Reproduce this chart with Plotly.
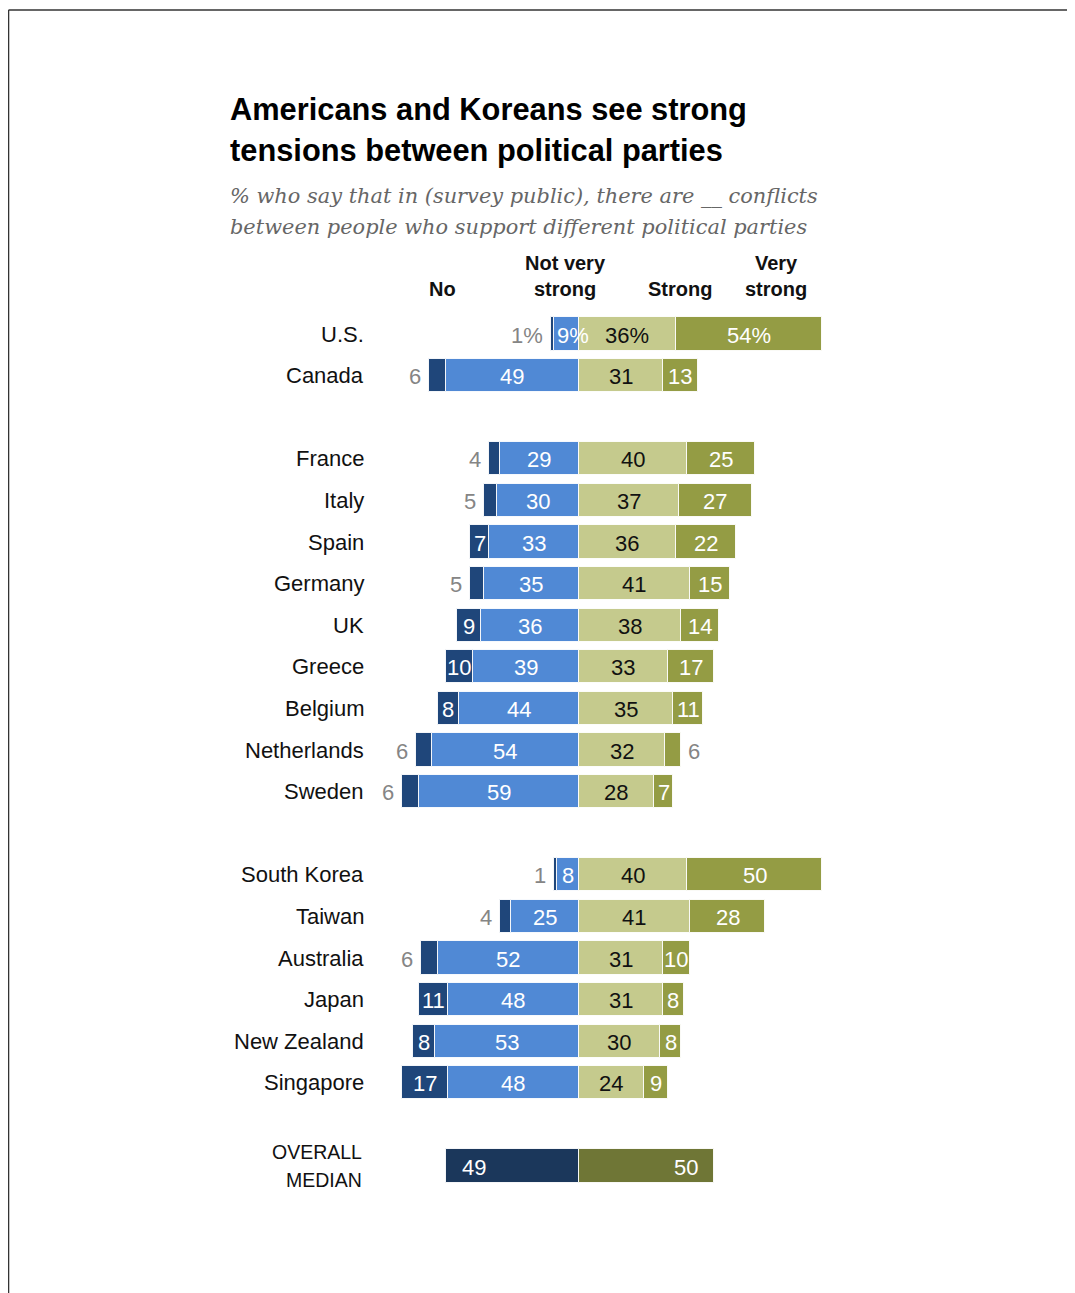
import plotly.graph_objects as go

# ---------------- data ----------------
countries = ["U.S.", "Canada", "France", "Italy", "Spain", "Germany", "UK", "Greece",
             "Belgium", "Netherlands", "Sweden", "South Korea", "Taiwan", "Australia",
             "Japan", "New Zealand", "Singapore"]
no_vals = [1, 6, 4, 5, 7, 5, 9, 10, 8, 6, 6, 1, 4, 6, 11, 8, 17]
not_very = [9, 49, 29, 30, 33, 35, 36, 39, 44, 54, 59, 8, 25, 52, 48, 53, 48]
strong = [36, 31, 40, 37, 36, 41, 38, 33, 35, 32, 28, 40, 41, 31, 31, 30, 24]
very_strong = [54, 13, 25, 27, 22, 15, 14, 17, 11, 6, 7, 50, 28, 10, 8, 8, 9]
median_name = ["OVERALL", "MEDIAN"]
median_no = 49
median_strong = 50
headers = ["No", "Not very<br>strong", "Strong", "Very<br>strong"]
title_lines = ["Americans and Koreans see strong", "tensions between political parties"]
subtitle_lines = ["% who say that in (survey public), there are __ conflicts",
                  "between people who support different political parties"]

# ---------------- layout helpers ----------------
OFF = 8                     # page body margin
W, H = 1075 - OFF, 1293 - OFF
CENTER_PX = 578.5 - OFF
PX_PER_UNIT = 2.71
ROW_PX = 41.6
FIRST_ROW_PX = 334 - OFF
group_sizes = [2, 9, 6]           # North America, Europe, Asia-Pacific
slots = []
s = 0
for g in group_sizes:
    for _ in range(g):
        slots.append(s)
        s += 1
    s += 1
median_slot = s

C_NO = "#1f467a"
C_NV = "#5089d5"
C_ST = "#c5ca8d"
C_VS = "#949c44"
C_MED_NO = "#1b375b"
C_MED_ST = "#6f7636"
GREY = "#858585"

FONT = "Liberation Sans, Arial, sans-serif"
LBL = 22


def px(x):
    """page pixel -> paper x"""
    return (x - OFF) / W


def py(y):
    """page pixel -> paper y"""
    return 1 - (y - OFF) / H


fig = go.Figure()
line = dict(color="rgba(255,255,255,0.9)", width=1)
bw = 0.8
fig.add_trace(go.Bar(y=slots, x=[-v for v in not_very], orientation="h", width=bw,
                     marker=dict(color=C_NV, line=line), name="Not very strong"))
fig.add_trace(go.Bar(y=slots, x=[-v for v in no_vals], orientation="h", width=bw,
                     marker=dict(color=C_NO, line=line), name="No"))
fig.add_trace(go.Bar(y=slots, x=strong, orientation="h", width=bw,
                     marker=dict(color=C_ST, line=line), name="Strong"))
fig.add_trace(go.Bar(y=slots, x=very_strong, orientation="h", width=bw,
                     marker=dict(color=C_VS, line=line), name="Very strong"))
fig.add_trace(go.Bar(y=[median_slot], x=[-median_no], orientation="h", width=bw,
                     marker=dict(color=C_MED_NO, line=line), name="Median no"))
fig.add_trace(go.Bar(y=[median_slot], x=[median_strong], orientation="h", width=bw,
                     marker=dict(color=C_MED_ST, line=line), name="Median strong"))

ann = []


def lab(x, y, text, color, xanchor="center", xshift=0):
    ann.append(dict(x=x, y=y, xref="x", yref="y", text=text, showarrow=False,
                    xanchor=xanchor, yanchor="middle", xshift=xshift, yshift=-1,
                    font=dict(family=FONT, size=LBL, color=color)))


for i, (c, n, nv, st, vs, y) in enumerate(zip(countries, no_vals, not_very, strong, very_strong, slots)):
    suf = "%" if i == 0 else ""
    # country name
    ann.append(dict(x=px(366), y=y, xref="paper", yref="y", text=c, showarrow=False,
                    xanchor="right", yanchor="middle",
                    font=dict(family=FONT, size=LBL, color="#111")))
    # No
    if n < 7:
        lab(-(nv + n), y, f"{n}{suf}", GREY, xanchor="right", xshift=-6)
    else:
        lab(-(nv + n / 2), y, f"{n}{suf}", "white")
    # Not very strong
    if i == 0:
        lab(-nv, y, f"{nv}{suf}", "white", xanchor="left", xshift=1)
    else:
        lab(-nv / 2, y, f"{nv}{suf}", "white")
    # Strong
    lab(st / 2, y, f"{st}{suf}", "#111")
    # Very strong
    if vs < 7:
        lab(st + vs, y, f"{vs}{suf}", GREY, xanchor="left", xshift=5)
    else:
        lab(st + vs / 2, y, f"{vs}{suf}", "white")

# median
lab(-median_no, median_slot, str(median_no), "white", xanchor="left", xshift=14)
lab(median_strong, median_slot, str(median_strong), "white", xanchor="right", xshift=-14)
for j, t in enumerate(median_name):
    ann.append(dict(x=px(364), y=median_slot + (j - 0.5) * 0.66, xref="paper", yref="y",
                    text=t, showarrow=False, xanchor="right", yanchor="middle",
                    font=dict(family=FONT, size=19.5, color="#111")))

# headers
hdr_x = [442, 565, 680, 776]
for t, hx in zip(headers, hdr_x):
    ann.append(dict(x=px(hx), y=py(302), xref="paper", yref="paper", text=f"<b>{t}</b>",
                    showarrow=False, xanchor="center", yanchor="bottom",
                    font=dict(family=FONT, size=20, color="#111")))

# title & subtitle
for t, ty in zip(title_lines, [110, 150]):
    ann.append(dict(x=px(228), y=py(ty), xref="paper", yref="paper", text=f"<b>{t}</b>",
                    showarrow=False, xanchor="left", yanchor="middle",
                    font=dict(family=FONT, size=30.8, color="#000")))
for t, ty in zip(subtitle_lines, [196, 227]):
    ann.append(dict(x=px(228), y=py(ty), xref="paper", yref="paper", text=f"<i>{t}</i>",
                    showarrow=False, xanchor="left", yanchor="middle",
                    font=dict(family="DejaVu Serif, Georgia, serif", size=20.9, color="#666")))

shapes = [
    dict(type="line", xref="paper", yref="paper", x0=0.0005, x1=1.0, y0=py(10), y1=py(10),
         line=dict(color="#333", width=1.5)),
    dict(type="line", xref="paper", yref="paper", x0=0.0005, x1=0.0005, y0=py(10), y1=0,
         line=dict(color="#333", width=1.5)),
]

x0 = -CENTER_PX / PX_PER_UNIT
x1 = (W - CENTER_PX) / PX_PER_UNIT
y_top = -FIRST_ROW_PX / ROW_PX
y_bot = (H - FIRST_ROW_PX) / ROW_PX

fig.update_layout(
    width=W, height=H, barmode="relative", showlegend=False,
    paper_bgcolor="white", plot_bgcolor="white",
    margin=dict(l=0, r=0, t=0, b=0, pad=0),
    xaxis=dict(range=[x0, x1], visible=False, fixedrange=True),
    yaxis=dict(range=[y_bot, y_top], visible=False, fixedrange=True),
    annotations=ann, shapes=shapes, bargap=0,
)

fig.write_html("out.html")
